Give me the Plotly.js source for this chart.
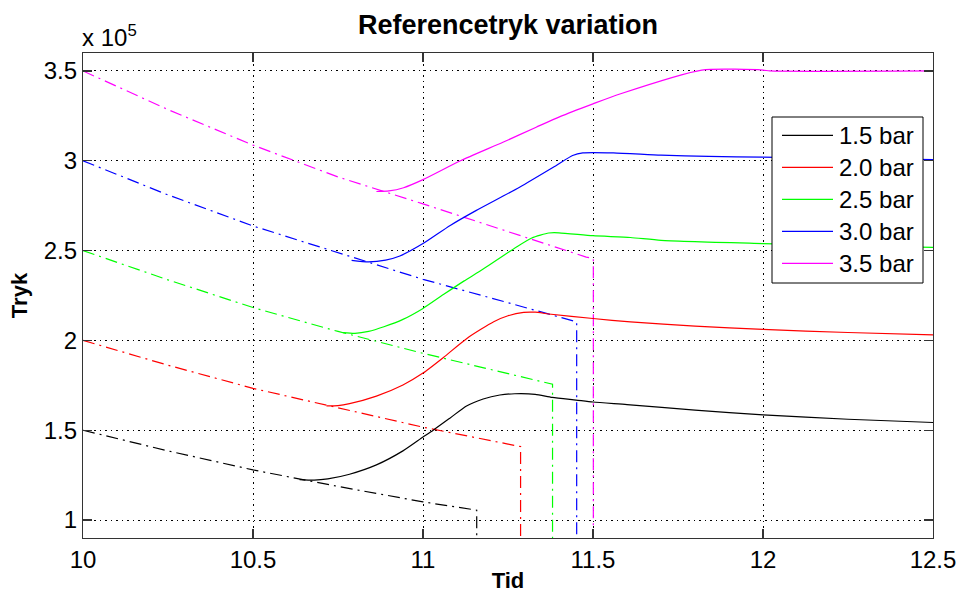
<!DOCTYPE html>
<html>
<head>
<meta charset="utf-8">
<script src="https://cdn.plot.ly/plotly-3.0.1.min.js"></script>
<style>
  html, body { margin: 0; padding: 0; background: #fff; }
  #plot { width: 959px; height: 593px; }
</style>
</head>
<body>
<div id="plot"></div>
<script>
// Pressure in units of 10^5 Pa, time in seconds.
const seriesNames = ['1.5 bar', '2.0 bar', '2.5 bar', '3.0 bar', '3.5 bar'];
const seriesColors = ['#000000', '#ff0000', '#00ff00', '#0000ff', '#ff00ff'];

// Reference pressure (dash-dot), ramping down and then cut off
const refT15 = [10, 10.25, 10.5, 10.75, 11.0, 11.158, 11.158];
const refP15 = [1.5, 1.385, 1.279, 1.187, 1.101, 1.055, 0];
const refT20 = [10, 10.25, 10.5, 10.75, 11.0, 11.25, 11.287, 11.287];
const refP20 = [2.0, 1.862, 1.733, 1.623, 1.517, 1.423, 1.409, 0];
const refT25 = [10, 10.25, 10.5, 10.75, 11.0, 11.25, 11.381, 11.381];
const refP25 = [2.5, 2.337, 2.183, 2.05, 1.928, 1.814, 1.756, 0];
const refT30 = [10, 10.25, 10.5, 10.75, 11.0, 11.25, 11.452, 11.452];
const refP30 = [3.0, 2.81, 2.637, 2.487, 2.34, 2.21, 2.103, 0];
const refT35 = [10, 10.25, 10.5, 10.75, 11.0, 11.25, 11.48, 11.501, 11.501];
const refP35 = [3.5, 3.285, 3.087, 2.91, 2.76, 2.604, 2.464, 2.455, 0];

// Measured pressure (solid)
const actT15 = [10.637, 10.68, 10.72, 10.784, 10.863, 10.941, 11.0, 11.03, 11.079, 11.128, 11.177, 11.226, 11.27, 11.33, 11.38, 11.45, 11.5, 11.6, 11.8, 12.0, 12.25, 12.5];
const actP15 = [1.225, 1.222, 1.229, 1.255, 1.307, 1.385, 1.462, 1.50, 1.567, 1.635, 1.674, 1.696, 1.703, 1.70, 1.683, 1.668, 1.657, 1.643, 1.612, 1.585, 1.561, 1.543];
const actT20 = [10.716, 10.75, 10.784, 10.863, 10.941, 11.0, 11.06, 11.129, 11.208, 11.25, 11.296, 11.33, 11.37, 11.5, 11.61, 11.8, 12.0, 12.25, 12.5];
const actP20 = [1.635, 1.637, 1.648, 1.69, 1.752, 1.818, 1.905, 2.011, 2.104, 2.137, 2.156, 2.157, 2.147, 2.122, 2.103, 2.08, 2.061, 2.044, 2.031];
const actT25 = [10.765, 10.8, 10.84, 10.885, 10.941, 11.0, 11.06, 11.12, 11.177, 11.275, 11.32, 11.37, 11.40, 11.5, 11.61, 11.7, 12.0, 12.25, 12.5];
const actP25 = [2.043, 2.039, 2.05, 2.076, 2.117, 2.178, 2.255, 2.33, 2.397, 2.52, 2.57, 2.598, 2.599, 2.583, 2.573, 2.557, 2.539, 2.527, 2.518];
const actT30 = [10.79, 10.84, 10.89, 10.932, 11.0, 11.08, 11.157, 11.284, 11.392, 11.44, 11.47, 11.56, 11.7, 11.84, 12.0, 12.25, 12.5];
const actP30 = [2.446, 2.437, 2.447, 2.47, 2.539, 2.64, 2.724, 2.853, 2.974, 3.029, 3.044, 3.044, 3.031, 3.024, 3.02, 3.013, 3.006];
const actT35 = [10.863, 10.9, 10.943, 11.0, 11.11, 11.235, 11.333, 11.403, 11.5, 11.579, 11.82, 12.0, 12.02, 12.5];
const actP35 = [2.829, 2.832, 2.85, 2.895, 3.0, 3.103, 3.187, 3.246, 3.317, 3.372, 3.505, 3.505, 3.50, 3.50];

const xTicks = [10, 10.5, 11, 11.5, 12, 12.5];
const xTickText = ['10', '10.5', '11', '11.5', '12', '12.5'];
const yTicks = [1, 1.5, 2, 2.5, 3, 3.5];
const yTickText = ['1', '1.5', '2', '2.5', '3', '3.5'];

const refT = [refT15, refT20, refT25, refT30, refT35];
const refP = [refP15, refP20, refP25, refP30, refP35];
const actT = [actT15, actT20, actT25, actT30, actT35];
const actP = [actP15, actP20, actP25, actP30, actP35];

const FONT = 'Liberation Sans, Arial, Helvetica, sans-serif';
const W = 959, H = 593;
const M = { l: 83, r: 26, t: 53, b: 55 };
const plotW = W - M.l - M.r, plotH = H - M.t - M.b;
// pixel position -> paper fraction (for the boxed legend in the corner)
const px = v => (v - M.l) / plotW;
const py = v => (H - M.b - v) / plotH;

const traces = [];
for (let i = 0; i < seriesNames.length; i++) {
  traces.push({
    x: refT[i], y: refP[i], type: 'scatter', mode: 'lines',
    line: { color: seriesColors[i], width: 1.2, dash: '12px,5px,2px,5px' },
    showlegend: false, hoverinfo: 'skip'
  });
}
for (let i = 0; i < seriesNames.length; i++) {
  traces.push({
    x: actT[i], y: actP[i], type: 'scatter', mode: 'lines', name: seriesNames[i],
    line: { color: seriesColors[i], width: 1.2, shape: 'spline', smoothing: 0.6 },
    showlegend: false
  });
}

// Legend box drawn as shapes + text so the row spacing stays compact
const legendBox = { x0: 772, x1: 923, y0: 117, y1: 283, rowTop: 135.3, rowStep: 32, lineX0: 782, lineX1: 833, textX: 837 };
const shapes = [{
  type: 'rect', xref: 'paper', yref: 'paper', layer: 'above',
  x0: px(legendBox.x0), x1: px(legendBox.x1), y0: py(legendBox.y1), y1: py(legendBox.y0),
  fillcolor: '#fff', line: { color: '#000', width: 1 }
}];
const annotations = [];
seriesNames.forEach((name, i) => {
  const rowY = legendBox.rowTop + i * legendBox.rowStep;
  shapes.push({
    type: 'line', xref: 'paper', yref: 'paper', layer: 'above',
    x0: px(legendBox.lineX0), x1: px(legendBox.lineX1), y0: py(rowY), y1: py(rowY),
    line: { color: seriesColors[i], width: 1.2 }
  });
  annotations.push({
    text: name, xref: 'paper', yref: 'paper', x: px(legendBox.textX), y: py(rowY),
    xanchor: 'left', yanchor: 'middle', showarrow: false,
    font: { family: FONT, size: 24, color: '#000' }
  });
});
annotations.push({
  text: 'x 10<sup>5</sup>', xref: 'paper', yref: 'paper', x: 0, y: 1,
  xanchor: 'left', yanchor: 'bottom', xshift: -3, yshift: 0, showarrow: false,
  font: { family: FONT, size: 24, color: '#000' }
});

const axisCommon = {
  showline: true, mirror: 'ticks', linecolor: '#333', linewidth: 1.2,
  ticks: 'inside', ticklen: 9, tickcolor: '#333', tickwidth: 1.2,
  showgrid: true, gridcolor: '#000', gridwidth: 1, griddash: '1.5px,4px',
  zeroline: false, automargin: false,
  tickfont: { family: FONT, size: 24, color: '#000' }
};

const layout = {
  width: W, height: H,
  margin: M,
  paper_bgcolor: '#fff', plot_bgcolor: '#fff',
  title: {
    text: 'Referencetryk variation',
    font: { family: FONT, size: 27, color: '#000', weight: 'bold' },
    x: 0.5, xref: 'paper', xanchor: 'center', y: 0.958, yref: 'container', yanchor: 'middle'
  },
  xaxis: Object.assign({}, axisCommon, {
    range: [10, 12.5], tickvals: xTicks, ticktext: xTickText,
    title: { text: 'Tid', font: { family: FONT, size: 22, color: '#000', weight: 'bold' }, standoff: 13 }
  }),
  yaxis: Object.assign({}, axisCommon, {
    range: [0.9, 3.6], tickvals: yTicks, ticktext: yTickText,
    title: { text: 'Tryk', font: { family: FONT, size: 22, color: '#000', weight: 'bold' }, standoff: 10 }
  }),
  shapes: shapes,
  annotations: annotations,
  showlegend: false
};

Plotly.newPlot('plot', traces, layout, { displayModeBar: false, staticPlot: true });
</script>
</body>
</html>
